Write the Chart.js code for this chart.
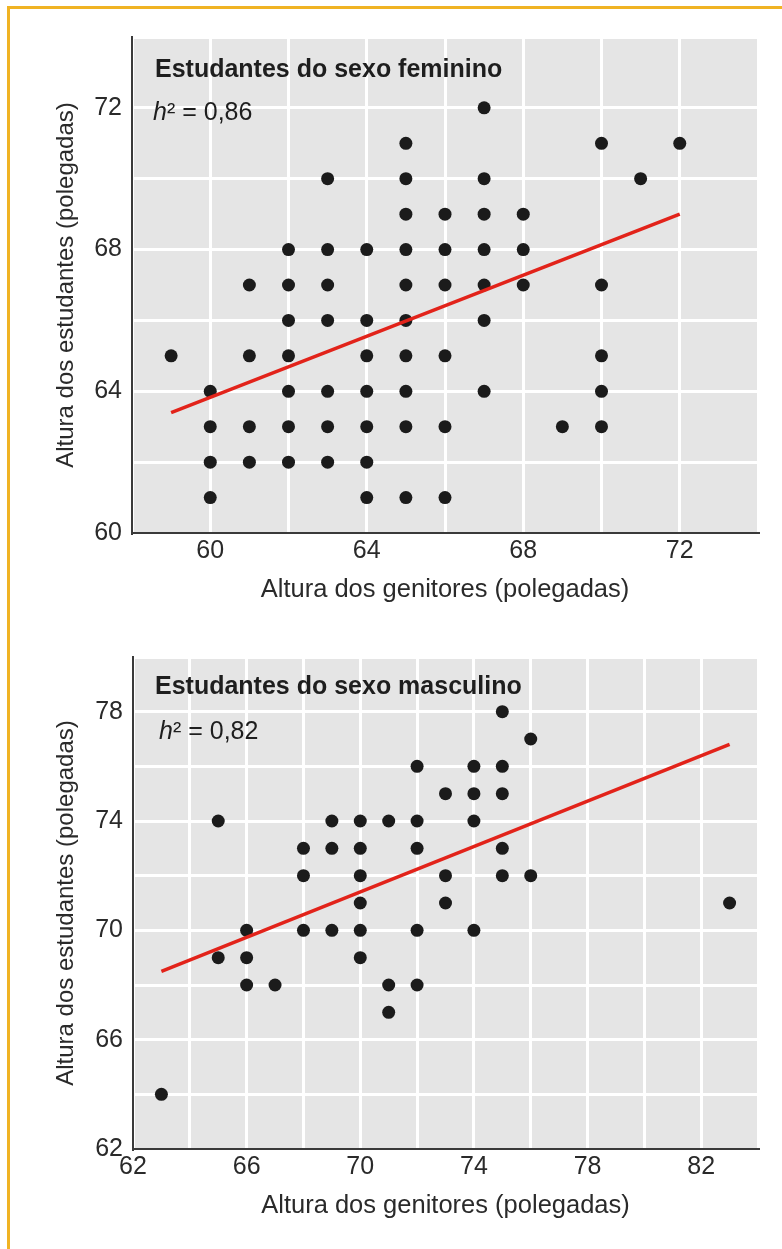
<!DOCTYPE html>
<html>
<head>
<meta charset="utf-8">
<script src="https://cdn.jsdelivr.net/npm/chart.js@4.4.0/dist/chart.umd.min.js"></script>
<style>
body { margin:0; background:#fff; width:782px; height:1249px; position:relative; overflow:hidden; font-family:"Liberation Sans", Arial, sans-serif; }
#frame { position:absolute; left:7px; top:6px; width:800px; height:1260px; border-top:3px solid #f0b323; border-left:3px solid #f0b323; }
canvas { position:absolute; left:0; }
#c1 { top:0; }
#c2 { top:620px; }
.note { position:absolute; color:#1e1e1e; font-size:25px; line-height:1; white-space:nowrap; }
.note.t { font-weight:bold; }
</style>
</head>
<body>
<div id="frame"></div>
<canvas id="c1" width="782" height="620"></canvas>
<canvas id="c2" width="782" height="629"></canvas>

<div class="note t" style="left:155px; top:56px">Estudantes do sexo feminino</div>
<div class="note" style="left:153px; top:99px"><i>h</i>² = 0,86</div>
<div class="note t" style="left:155px; top:673px">Estudantes do sexo masculino</div>
<div class="note" style="left:159px; top:718px"><i>h</i>² = 0,82</div>

<script>
// estudantes do sexo feminino
var femaleParent = [
	59,
	60,60,60,60,
	61,61,61,61,
	62,62,62,62,62,62,62,
	63,63,63,63,63,63,63,
	64,64,64,64,64,64,64,
	65,65,65,65,65,65,65,65,65,65,
	66,66,66,66,66,66,
	67,67,67,67,67,67,67,
	68,68,68,
	69,
	70,70,70,70,70,
	71,
	72];
var femaleStudent = [
	65,
	64,63,62,61,
	67,65,63,62,
	68,67,66,65,64,63,62,
	70,68,67,66,64,63,62,
	68,66,65,64,63,62,61,
	71,70,69,68,67,66,65,64,63,61,
	69,68,67,65,63,61,
	72,70,69,68,67,66,64,
	69,68,67,
	63,
	71,67,65,64,63,
	70,
	71];
var femaleFitX = [59, 72];
var femaleFitY = [63.4, 69.0];
var femaleXLabels = [60, 64, 68, 72];
var femaleYLabels = [60, 64, 68, 72];

// estudantes do sexo masculino
var maleParent = [
	63,
	65,65,
	66,66,66,
	67,
	68,68,68,
	69,69,69,
	70,70,70,70,70,70,
	71,71,71,
	72,72,72,72,72,
	73,73,73,
	74,74,74,74,
	75,75,75,75,75,
	76,76,
	83];
var maleStudent = [
	64,
	74,69,
	70,69,68,
	68,
	73,72,70,
	74,73,70,
	74,73,72,71,70,69,
	74,68,67,
	76,74,73,70,68,
	75,72,71,
	76,75,74,70,
	78,76,75,73,72,
	77,72,
	71];
var maleFitX = [63, 83];
var maleFitY = [68.5, 76.8];
var maleXLabels = [62, 66, 70, 74, 78, 82];
var maleYLabels = [62, 66, 70, 74, 78];

var textColor = '#2a2a2a';

var plotBg = {
	id: 'plotBg',
	beforeDraw: function(chart) {
		var a = chart.chartArea;
		chart.ctx.save();
		chart.ctx.fillStyle = '#e5e5e5';
		chart.ctx.fillRect(a.left, a.top, a.right - a.left, a.bottom - a.top);
		chart.ctx.restore();
	}
};

function toPoints(xs, ys) {
	var pts = [];
	for (i=0; i<xs.length; i++) pts.push({x: xs[i], y: ys[i]});
	return pts;
}

function makeChart(id, o) {
	return new Chart(document.getElementById(id), {
		type: 'scatter',
		data: {
			datasets: [{
				data: toPoints(o.fitX, o.fitY),
				showLine: true,
				borderColor: '#e2231a',
				borderWidth: 3.5,
				pointRadius: 0,
				pointHoverRadius: 0
			}, {
				data: toPoints(o.px, o.py),
				pointRadius: 6.5,
				pointHoverRadius: 6.5,
				backgroundColor: '#1b1b1b',
				borderWidth: 0
			}]
		},
		options: {
			responsive: false,
			animation: false,
			events: [],
			layout: { padding: { top: 37, right: 24, bottom: o.padBottom, left: 0 } },
			plugins: { legend: { display: false }, tooltip: { enabled: false } },
			scales: {
				x: {
					type: 'linear', min: o.xMin, max: o.xMax,
					ticks: {
						stepSize: 2, autoSkip: false, maxRotation: 0, padding: 3,
						color: textColor, font: { family: 'Liberation Sans', size: 25 },
						callback: function(v) { return o.xLabels.indexOf(v) >= 0 ? String(v) : ''; }
					},
					grid: { color: '#fff', lineWidth: 3, drawTicks: false },
					border: { color: '#3a3a3a', width: 2 },
					title: {
						display: true, text: 'Altura dos genitores (polegadas)',
						color: textColor, font: { family: 'Liberation Sans', size: 25.5 },
						padding: { top: 0, bottom: 0 }
					},
					afterFit: function(s) { s.height = 72; }
				},
				y: {
					type: 'linear', min: o.yMin, max: o.yMax,
					ticks: {
						stepSize: 2, autoSkip: false, padding: 10,
						color: textColor, font: { family: 'Liberation Sans', size: 25 },
						callback: function(v) { return o.yLabels.indexOf(v) >= 0 ? String(v) : ''; }
					},
					grid: { color: '#fff', lineWidth: 3, drawTicks: false },
					border: { color: '#3a3a3a', width: 2 },
					title: {
						display: true, text: 'Altura dos estudantes (polegadas)',
						color: textColor, font: { family: 'Liberation Sans', size: 24 },
						padding: { top: 52, bottom: 0 }
					},
					afterFit: function(s) { s.width = o.yWidth; }
				}
			}
		},
		plugins: [plotBg]
	});
}

makeChart('c1', {
	px: femaleParent, py: femaleStudent, fitX: femaleFitX, fitY: femaleFitY,
	xLabels: femaleXLabels, yLabels: femaleYLabels,
	xMin: 58, xMax: 74, yMin: 60, yMax: 74, yWidth: 132, padBottom: 15
});

makeChart('c2', {
	px: maleParent, py: maleStudent, fitX: maleFitX, fitY: maleFitY,
	xLabels: maleXLabels, yLabels: maleYLabels,
	xMin: 62, xMax: 84, yMin: 62, yMax: 80, yWidth: 133, padBottom: 28
});
</script>
</body>
</html>
